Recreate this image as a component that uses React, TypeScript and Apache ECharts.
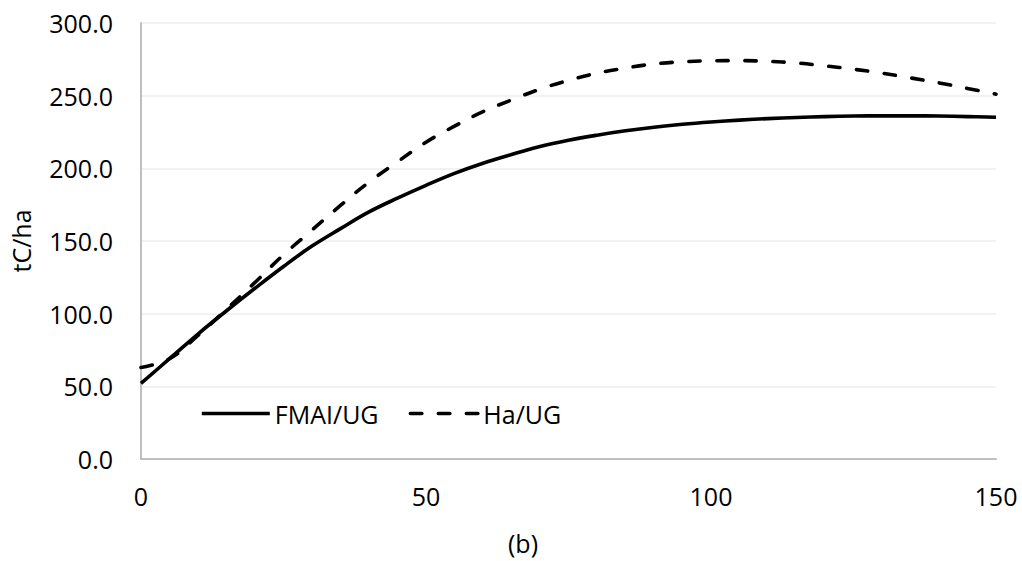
import React, { useEffect, useRef } from "react";
import * as echarts from "echarts";

const ages = [0, 5, 10, 15, 20, 25, 30, 35, 40, 45, 50, 55, 60, 65, 70, 75, 80, 85, 90, 95, 100, 105, 110, 115, 120, 125, 130, 135, 140, 145, 150];
const fmaiUG = [52, 69, 86, 102, 117.5, 132.5, 146.5, 158.5, 170, 179.5, 188.3, 196.5, 203.5, 209.5, 215, 219.3, 222.8, 225.8, 228.3, 230.3, 231.9, 233.2, 234.2, 235, 235.6, 236, 236.1, 236.1, 236, 235.6, 235.1];
const haUG = [63, 69, 85, 103, 121.5, 140.5, 157.5, 174.5, 190.5, 204.5, 218, 229, 239, 247, 254.5, 260.5, 265.5, 269, 271.8, 273.3, 274, 274.1, 273.6, 272.5, 270.5, 268.2, 265.5, 262.2, 258.8, 255, 251];
const seriesNames = ["FMAI/UG", "Ha/UG"];
const yTicks = { min: 0, max: 300, interval: 50 };
const xTicks = { min: 0, max: 150, interval: 50 };

const FONT = "Open Sans";
const LW = 3.6;

export default function App() {
  const ref = useRef<HTMLDivElement>(null);
  useEffect(() => {
    if (!ref.current) return;
    const chart = echarts.init(ref.current, undefined, { renderer: "svg" });
    chart.setOption({
      animation: false,
      backgroundColor: "#ffffff",
      grid: { left: 141, right: 26, top: 23, bottom: 102, containLabel: false },
      legend: {
        left: 195,
        top: 396,
        itemWidth: 68,
        itemHeight: 14,
        itemGap: 30,
        itemStyle: { opacity: 0 },
        lineStyle: { width: LW },
        textStyle: { fontFamily: FONT, fontSize: 25, color: "#000" },
        data: seriesNames,
      },
      xAxis: {
        type: "value",
        min: xTicks.min,
        max: xTicks.max,
        interval: xTicks.interval,
        axisLine: { show: true, lineStyle: { color: "#bfbfbf", width: 2 } },
        axisTick: { show: false },
        splitLine: { show: false },
        axisLabel: { fontFamily: FONT, fontSize: 25, color: "#000", margin: 24 },
      },
      yAxis: {
        type: "value",
        min: yTicks.min,
        max: yTicks.max,
        interval: yTicks.interval,
        name: "tC/ha",
        nameLocation: "middle",
        nameGap: 108,
        nameTextStyle: { fontFamily: FONT, fontSize: 25, color: "#000" },
        axisLine: { show: true, lineStyle: { color: "#bfbfbf", width: 2 } },
        axisTick: { show: false },
        splitLine: { show: true, lineStyle: { color: "#eeeeee", width: 1.5 } },
        axisLabel: {
          fontFamily: FONT,
          fontSize: 25,
          color: "#000",
          margin: 28,
          formatter: (v: number) => v.toFixed(1),
        },
      },
      series: [
        {
          name: seriesNames[0],
          type: "line",
          smooth: 0.4,
          symbol: "none",
          data: ages.map((a, i) => [a, fmaiUG[i]]),
          lineStyle: { color: "#000", width: LW, type: "solid" },
          itemStyle: { color: "#000" },
        },
        {
          name: seriesNames[1],
          type: "line",
          smooth: 0.4,
          symbol: "none",
          data: ages.map((a, i) => [a, haUG[i]]),
          lineStyle: { color: "#000", width: LW, type: [11.5, 16.5], cap: "round" },
          itemStyle: { color: "#000" },
        },
      ],
      graphic: [
        {
          type: "text",
          left: 508,
          top: 530,
          style: { text: "(b)", fontFamily: FONT, fontSize: 25, fill: "#000" },
        },
      ],
    });
    return () => chart.dispose();
  }, []);
  return (
    <div
      ref={ref}
      style={{ position: "fixed", left: 0, top: 0, width: 1022, height: 561, background: "#fff" }}
    />
  );
}
